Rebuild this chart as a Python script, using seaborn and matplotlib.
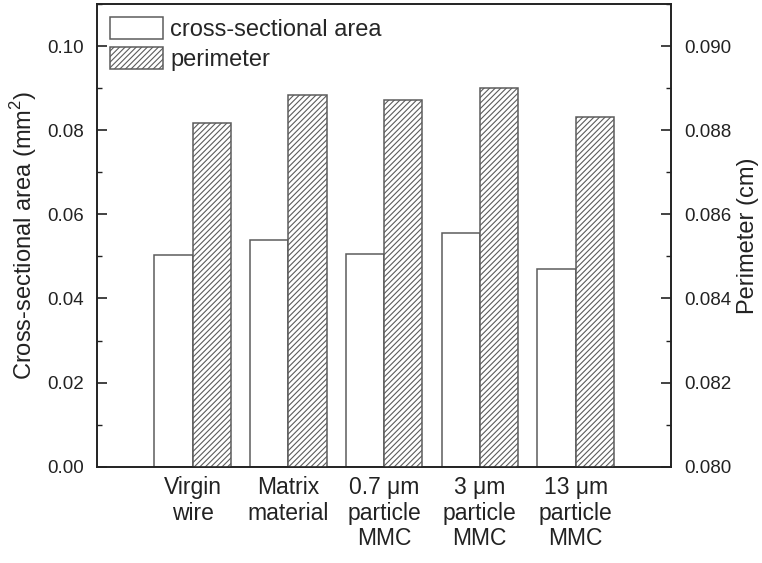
import matplotlib
matplotlib.use("Agg")
import matplotlib.pyplot as plt
import pandas as pd
import seaborn as sns
from matplotlib.patches import Patch
from matplotlib.ticker import MultipleLocator, FormatStrFormatter

categories = ["Virgin\nwire", "Matrix\nmaterial", "0.7 μm\nparticle\nMMC",
              "3 μm\nparticle\nMMC", "13 μm\nparticle\nMMC"]
area_mm2 = [0.0504, 0.0538, 0.0505, 0.0555, 0.0469]
perimeter_cm = [0.08817, 0.08884, 0.08872, 0.08901, 0.08832]
series = ["cross-sectional area", "perimeter"]

sns.set_theme(style="ticks")
plt.rcParams["font.family"] = ["Liberation Sans", "DejaVu Sans"]
plt.rcParams["mathtext.fontset"] = "custom"
plt.rcParams["mathtext.rm"] = "Liberation Sans"
plt.rcParams["hatch.linewidth"] = 0.8

edge = "#5c5c5c"
ink = "#222222"
hatch = "//////"

df_area = pd.DataFrame({"sample": categories, "value": area_mm2, "series": series[0]})
df_perim = pd.DataFrame({"sample": categories, "value": perimeter_cm, "series": series[1]})

fig = plt.figure(figsize=(7.62, 5.63), dpi=100)
ax1 = fig.add_axes([0.127, 0.171, 0.754, 0.822])
ax2 = ax1.twinx()

bar_kw = dict(x="sample", y="value", hue="series", hue_order=series, order=categories,
              dodge=True, width=0.8, legend=False, saturation=1,
              palette={series[0]: "white", series[1]: "white"},
              edgecolor=edge, linewidth=1.1)
sns.barplot(data=df_area, ax=ax1, **bar_kw)
sns.barplot(data=df_perim, ax=ax2, **bar_kw)
for p in ax2.patches:
    p.set_hatch(hatch)

for ax in (ax1, ax2):
    ax.set_xlim(-1, 5)
    for s in ax.spines.values():
        s.set_visible(True)
        s.set_color(ink)
        s.set_linewidth(1.2)

ax1.set_ylim(0, 0.11)
ax2.set_ylim(0.080, 0.091)
ax1.yaxis.set_major_locator(MultipleLocator(0.02))
ax1.yaxis.set_minor_locator(MultipleLocator(0.01))
ax1.yaxis.set_major_formatter(FormatStrFormatter("%.2f"))
ax2.yaxis.set_major_locator(MultipleLocator(0.002))
ax2.yaxis.set_minor_locator(MultipleLocator(0.001))
ax2.yaxis.set_major_formatter(FormatStrFormatter("%.3f"))

for ax in (ax1, ax2):
    ax.tick_params(axis="y", which="major", direction="in", length=7, width=1.2,
                   labelsize=13.5, pad=9, colors=ink, labelcolor=ink)
    ax.tick_params(axis="y", which="minor", direction="in", length=3.5, width=1.0, colors=ink)
ax1.tick_params(axis="x", length=0, labelsize=16.5, pad=7, labelcolor=ink)
ax1.set_xticks(range(len(categories)))
ax1.set_xticklabels(categories, linespacing=1.12)

ax1.set_xlabel("")
ax2.set_xlabel("")
ax1.set_ylabel("Cross-sectional area (mm$^\\mathregular{2}$)", fontsize=17, labelpad=6, color=ink)
ax2.set_ylabel("Perimeter (cm)", fontsize=17, labelpad=4, color=ink)

handles = [Patch(facecolor="white", edgecolor=edge, linewidth=1.1, label=series[0]),
           Patch(facecolor="white", edgecolor=edge, linewidth=1.1, hatch=hatch, label=series[1])]
ax2.legend(handles=handles, loc="upper left", frameon=False, fontsize=17,
           handlelength=2.25, handleheight=1.05, handletextpad=0.3, labelspacing=0.25,
           borderaxespad=0.25, borderpad=0.3, bbox_to_anchor=(0.0, 1.0))

fig.savefig("out.png", dpi=100)
